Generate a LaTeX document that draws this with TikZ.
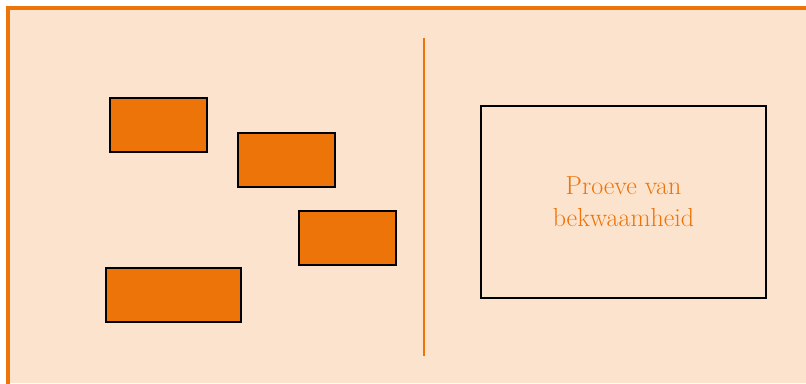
\documentclass[tikz,border=0pt]{standalone}
\usepackage{xcolor}
\usepackage{tikz}
\usetikzlibrary{positioning}
\definecolor{peach}{HTML}{FCE3CE}
\definecolor{oranje}{HTML}{EC7408}

\begin{document}
\begin{tikzpicture}[
  x=0.025cm, y=-0.025cm,
  blok/.style={rectangle, draw=black, fill=oranje, line width=1.4pt,
    minimum width=2.425cm, minimum height=1.35cm, inner sep=0pt},
  kader/.style={rectangle, draw=black, line width=1.4pt,
    minimum width=7.125cm, minimum height=4.8cm, align=center,
    font=\fontsize{18.5}{23}\selectfont, text=oranje}
]
\useasboundingbox (0,0) rectangle (806,383);

% ---- Achtergrond ----
\fill[peach] (8,8) rectangle (806,383);
\begin{scope}
  \clip (0,0) rectangle (806,383);
  \draw[oranje, line width=2.2pt] (8,8) rectangle (830,400);
\end{scope}

% ---- Losse blokken ----
\node[blok] (b1) at (158.5,125) {};
\node[blok] (b2) at (286.5,160) {};
\node[blok] (b3) at (347.5,238) {};
\node[blok, minimum width=3.375cm] (b4) at (173.5,295) {};

% ---- Scheidingslijn ----
\draw[oranje, line width=1.6pt] (424,38) -- (424,356);

% ---- Proeve ----
\node[kader] (pvb) at (623.5,202) {Proeve van\\bekwaamheid};

\end{tikzpicture}
\end{document}
